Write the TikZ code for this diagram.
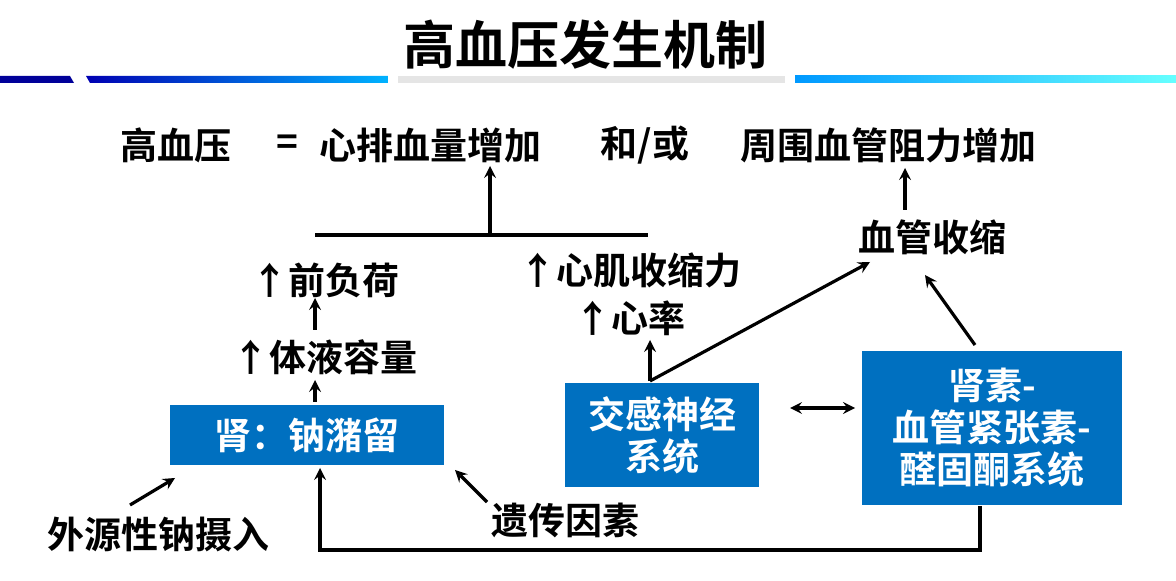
\documentclass[tikz,border=0pt]{standalone}
\usepackage{fontspec}
\setmainfont{Noto Sans CJK SC}[BoldFont={Noto Sans CJK SC Bold}]
\usetikzlibrary{positioning}
\definecolor{boxblue}{RGB}{0,112,192}
\begin{document}
\begin{tikzpicture}[x=0.5pt,y=-0.5pt,>=stealth,ultra thick,
  txt/.style={font=\fontsize{18.5}{22}\selectfont\bfseries,inner sep=1pt},
  box/.style={fill=boxblue,text=white,font=\fontsize{18.5}{21}\selectfont\bfseries,align=center,inner sep=0pt}]
\useasboundingbox (0,0) rectangle (1176,581);
% banner
\fill[blue!60!black] (0,76) -- (70,76) -- (74,83) -- (0,83) -- cycle;
\shade[left color=blue!70!black,right color=cyan!70!blue] (86,76) -- (388,76) -- (388,83) -- (90,83) -- cycle;
\fill[gray!20] (398,76) rectangle (785,83);
\shade[left color=cyan!60!blue,right color=cyan!60] (795,76) rectangle (1176,83);
\node[font=\fontsize{26}{30}\selectfont\bfseries] (title) at (585,45) {高血压发生机制};
% top line
\node[txt] (hbp) at (176,145) {高血压};
\node[txt] (eq) at (287,145) {=};
\node[txt] (co) at (430,145) {心排血量增加};
\node[txt] (or) at (645,145) {和/或};
\node[txt] (pr) at (888,145) {周围血管阻力增加};
% left branch
\coordinate (bl) at (315,235);
\coordinate (br) at (648,235);
\coordinate (bm) at (490,235);
\draw (bl) -- (br);
\draw[->] (bm) -- (490,166);
\node[txt] (pre) at (325,280) {↑前负荷};
\node[txt] (vol) at (325,357) {↑体液容量};
\node[box,minimum width=137pt,minimum height=30pt] (kid) at (307,435) {肾：钠潴留};
\draw[->] (315,330) -- (315,298);
\draw[->] (315,402) -- (315,380);
\node[txt] (salt) at (158,535) {外源性钠摄入};
\node[txt] (gene) at (565,520) {遗传因素};
\draw[->] (130,505) -- (175,478);
\draw[->] (487,502) -- (455,470);
% middle branch
\node[txt] (con) at (630,270) {↑心肌收缩力};
\node[txt] (hr) at (630,318) {↑心率};
\node[box,minimum width=97pt,minimum height=52pt] (sns) at (662,435) {交感神经\\系统};
\draw[->] (650,381) -- (650,340);
\draw[->] (650,381) -- (870,262);
% right branch
\node[txt] (vc) at (932,237) {血管收缩};
\draw[->] (905,210) -- (905,168);
\node[box,minimum width=130pt,minimum height=77pt] (raas) at (992,428) {肾素-\\血管紧张素-\\醛固酮系统};
\draw[->] (975,345) -- (925,275);
\draw[<->] (790,408) -- (855,408);
% feedback
\draw[->] (980,506) -- (980,550) -- (320,550) -- (320,468);
\end{tikzpicture}
\end{document}
